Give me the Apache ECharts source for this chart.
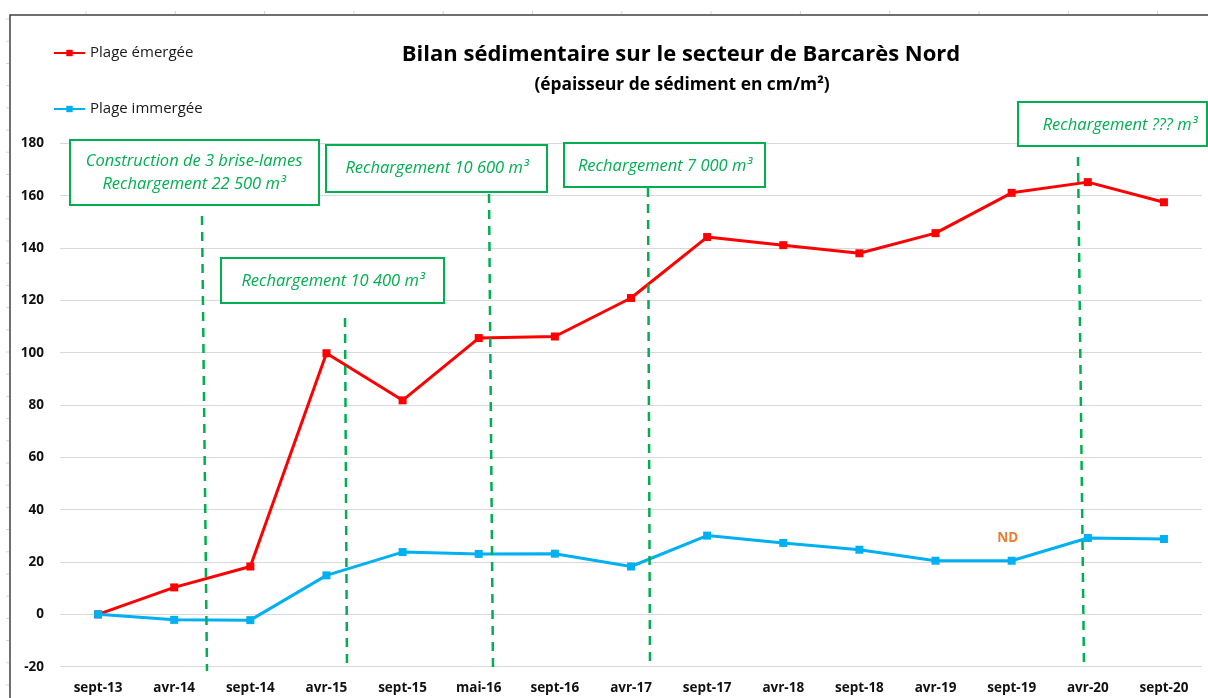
<!DOCTYPE html>
<html>
<head>
<meta charset="utf-8">
<script src="https://cdn.jsdelivr.net/npm/echarts@6/dist/echarts.min.js"></script>
<style>
html,body{margin:0;padding:0;background:#fff;}
#c{width:1208px;height:698px;}
</style>
</head>
<body>
<div id="c"></div>
<script>
const categories = ['sept-13','avr-14','sept-14','avr-15','sept-15','mai-16','sept-16','avr-17','sept-17','avr-18','sept-18','avr-19','sept-19','avr-20','sept-20'];
const plageEmergee = [0, 10.3, 18.3, 99.8, 81.8, 105.6, 106.2, 120.9, 144.2, 141.1, 138.0, 145.7, 161.1, 165.2, 157.5];
const plageImmergee = [0, -2.1, -2.2, 14.9, 23.8, 23.1, 23.2, 18.3, 30.1, 27.3, 24.7, 20.5, 20.5, 29.2, 28.8];
const yTicks = {min: -20, max: 180, interval: 20};
const seriesNames = ['Plage émergée', 'Plage immergée'];
const titleText = 'Bilan sédimentaire sur le secteur de Barcarès Nord';
const subtitleText = '(épaisseur de sédiment en cm/m²)';
const ndLabel = {category: 'sept-19', value: 29, text: 'ND'};

const FONT = '"Open Sans", Lato, sans-serif';
const GREEN = '#00b050';

const chart = echarts.init(document.getElementById('c'), null, {renderer: 'canvas'});

function box(x1, y1, x2, y2) {
  return {type: 'rect', z: 100, shape: {x: x1, y: y1, width: x2 - x1, height: y2 - y1},
    style: {fill: '#fff', stroke: GREEN, lineWidth: 2}};
}
function boxText(x, y, text) {
  return {type: 'text', z: 101, x: x, y: y,
    style: {text: text, fill: GREEN, font: 'italic 16.5px ' + FONT, align: 'center', verticalAlign: 'middle'}};
}
function dash(x1, y1, x2, y2) {
  return {type: 'line', z: 99, shape: {x1: x1, y1: y1, x2: x2, y2: y2},
    style: {stroke: GREEN, lineWidth: 2.5, lineDash: [9, 7]}};
}

const graphics = [
  {type: 'polyline', z: 50, shape: {points: [[10, 698], [10, 15], [1208, 15]]},
    style: {stroke: '#404040', lineWidth: 1.5, fill: null}},
  dash(202, 216, 207, 671),
  dash(345, 318, 347, 668),
  dash(489, 194, 493, 668),
  dash(648, 188, 650, 665),
  dash(1078, 157, 1084, 668),
  box(70, 140, 319, 205),
  boxText(194, 161, 'Construction de 3 brise-lames'),
  boxText(194, 184, 'Rechargement 22 500 m³'),
  box(221, 258, 444, 303),
  boxText(333, 281, 'Rechargement 10 400 m³'),
  box(326, 145, 547, 192),
  boxText(437, 168, 'Rechargement 10 600 m³'),
  box(564, 143, 765, 187),
  boxText(665, 166, 'Rechargement 7 000 m³'),
  box(1018, 102, 1207, 146),
  boxText(1120, 125, 'Rechargement ??? m³')
];
// faint worksheet cell marks around the chart frame
for (let i = 0; i < 13; i++) {
  const x = 86 + i * 89.3;
  graphics.push({type: 'line', z: 40, shape: {x1: x, y1: 11, x2: x, y2: 14},
    style: {stroke: '#d4d4d4', lineWidth: 1}});
}
for (let i = 0; i < 31; i++) {
  const y = 19 + i * 22.2;
  graphics.push({type: 'line', z: 40, shape: {x1: 6, y1: y, x2: 9, y2: y},
    style: {stroke: '#d4d4d4', lineWidth: 1}});
}

const option = {
  backgroundColor: '#fff',
  animation: false,
  textStyle: {fontFamily: FONT},
  title: [
    {text: titleText, left: 676, top: 39, textAlign: 'center',
      textStyle: {fontFamily: FONT, fontWeight: 'bold', fontSize: 22, color: '#000'}},
    {text: subtitleText, left: 677, top: 72, textAlign: 'center',
      textStyle: {fontFamily: FONT, fontWeight: 'bold', fontSize: 17.4, color: '#000'}}
  ],
  legend: [
    {data: [seriesNames[0]], left: 48, top: 39, itemWidth: 31, itemHeight: 8, itemGap: 0,
      textStyle: {fontFamily: FONT, fontSize: 15, color: '#1a1a1a', lineHeight: 18}},
    {data: [seriesNames[1]], left: 48, top: 95, itemWidth: 31, itemHeight: 8, itemGap: 0,
      textStyle: {fontFamily: FONT, fontSize: 15, color: '#1a1a1a', lineHeight: 18}}
  ],
  grid: {left: 60, right: 6, top: 143.4, bottom: 31.3, containLabel: false},
  xAxis: {
    type: 'category', data: categories, boundaryGap: true,
    axisLine: {show: false}, axisTick: {show: false},
    axisLabel: {fontFamily: FONT, fontWeight: 'bold', fontSize: 13.5, color: '#111', margin: 14, interval: 0}
  },
  yAxis: {
    type: 'value', min: yTicks.min, max: yTicks.max, interval: yTicks.interval,
    axisLine: {show: false}, axisTick: {show: false},
    axisLabel: {fontFamily: FONT, fontWeight: 'bold', fontSize: 13.5, color: '#111', margin: 16},
    splitLine: {lineStyle: {color: '#d9d9d9', width: 1}}
  },
  series: [
    {name: seriesNames[0], type: 'line', data: plageEmergee, symbol: 'rect', symbolSize: 8,
      lineStyle: {color: '#ff0000', width: 3}, itemStyle: {color: '#ff0000'}, z: 3},
    {name: seriesNames[1], type: 'line', data: plageImmergee, symbol: 'rect', symbolSize: 8,
      lineStyle: {color: '#00b0f0', width: 3}, itemStyle: {color: '#00b0f0'}, z: 4,
      markPoint: {
        symbol: 'rect', symbolSize: 0, silent: true,
        data: [{coord: [ndLabel.category, ndLabel.value], value: ndLabel.text}],
        label: {show: true, position: 'inside', offset: [-4, 0], formatter: ndLabel.text,
          color: '#ed7d31', fontWeight: 'bold', fontSize: 13.5, fontFamily: FONT}
      }}
  ],
  graphic: graphics
};
chart.setOption(option);
</script>
</body>
</html>
